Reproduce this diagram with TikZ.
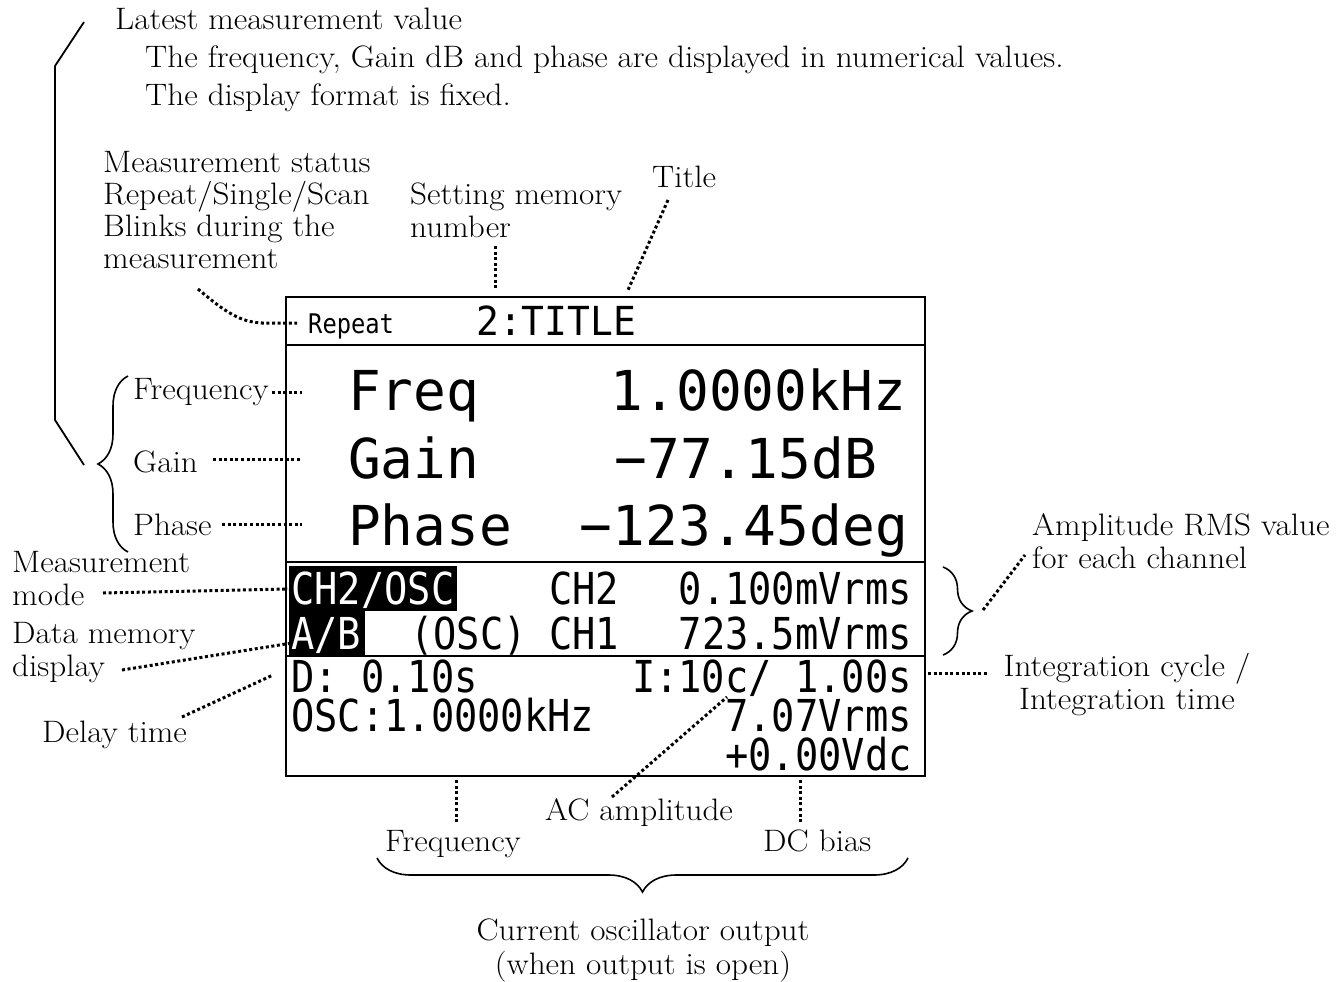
\documentclass[tikz,border=0pt]{standalone}
\usepackage{fontspec}
\setmainfont{Latin Modern Roman}[FakeStretch=1.07]
\newfontfamily\lcdA[FakeStretch=0.99]{DejaVu Sans Mono}
\newfontfamily\lcdB[FakeStretch=0.88]{DejaVu Sans Mono}
\newfontfamily\lcdC[FakeStretch=0.95]{DejaVu Sans Mono}
\usetikzlibrary{decorations.pathreplacing}
\begin{document}
\begin{tikzpicture}[x=1pt,y=-1pt,
  lbl/.style={inner sep=0pt, font=\fontsize{31}{32.5}\selectfont, anchor=base west, align=left},
  lblc/.style={inner sep=0pt, font=\fontsize{31}{32.5}\selectfont, anchor=base, align=center},
  dots/.style={line width=3pt, dash pattern=on 3pt off 2.6pt},
  big/.style={inner sep=0pt, text height=40pt, text depth=8pt, font=\lcdA\fontsize{55}{60}\selectfont},
  sml/.style={inner sep=0pt, text height=31pt, text depth=2pt, font=\lcdB\fontsize{44}{48}\selectfont},
  brc/.style={decorate, decoration={brace, amplitude=#1}, line width=1.6pt},
  frame/.style={line width=2.4pt},
]
\useasboundingbox (0,0) rectangle (1344,982);

% ---------- screen ----------
\node[frame, draw, inner sep=0pt, minimum width=639pt, minimum height=479pt, anchor=north west] (screen) at (285,296) {};
\draw[frame] (285,345) -- (924,345);
\draw[frame] (285,562) -- (924,562);
\draw[frame] (285,656) -- (924,656);
\fill (289,566) rectangle (457,611);
\fill (289,611) rectangle (365,655);

\node[inner sep=0pt, anchor=base west, font=\lcdB\fontsize{27}{30}\selectfont] (rep) at (308,333) {Repeat};
\node[inner sep=0pt, anchor=base west, font=\lcdC\fontsize{40}{42}\selectfont] (ttl) at (476,335) {2:TITLE};

\node[big, anchor=base west] (freq) at (348,410) {Freq};
\node[big, anchor=base east] (freqv) at (906,410) {1.0000kHz};
\node[big, anchor=base west] (gain) at (348,478) {Gain};
\node[big, anchor=base east] (gainv) at (877,478) {−77.15dB};
\node[big, anchor=base west] (phase) at (348,545) {Phase};
\node[big, anchor=base east] (phasev) at (908,545) {−123.45deg};

\node[sml, anchor=base west, text=white] (mode) at (291,604) {CH2/OSC};
\node[sml, anchor=base west] (ch2) at (549,604) {CH2};
\node[sml, anchor=base east] (ch2v) at (912,604) {0.100mVrms};
\node[sml, anchor=base west, text=white] (ab) at (291,649) {A/B};
\node[sml, anchor=base west] (osc) at (410,649) {(OSC)};
\node[sml, anchor=base west] (ch1) at (549,649) {CH1};
\node[sml, anchor=base east] (ch1v) at (912,649) {723.5mVrms};
\node[sml, anchor=base west] (dly) at (291,692) {D: 0.10s};
\node[sml, anchor=base east] (integ) at (912,692) {I:10c/ 1.00s};
\node[sml, anchor=base west] (oscf) at (291,731) {OSC:1.0000kHz};
\node[sml, anchor=base east] (acv) at (912,731) {7.07Vrms};
\node[sml, anchor=base east] (dcv) at (912,770) {+0.00Vdc};

% ---------- labels (base = baseline of last line) ----------
\node[lbl] (latest) at (115,30) {Latest measurement value};
\node[lbl, font=\fontsize{31}{38}\selectfont] (desc) at (145,105) {The frequency, Gain dB and phase are displayed in numerical values.\\The display format is fixed.};
\node[lbl, font=\fontsize{31}{32}\selectfont] (mstat) at (103,268) {Measurement status\\Repeat/Single/Scan\\Blinks during the\\measurement};
\node[lbl] (smem) at (410,237) {Setting memory\\number};
\node[lbl] (title) at (652,187) {Title};
\node[lbl] (lfreq) at (133,399) {Frequency};
\node[lbl] (lgain) at (133,472) {Gain};
\node[lbl] (lphase) at (133,535) {Phase};
\node[lbl, font=\fontsize{31}{33}\selectfont] (lmode) at (12,605) {Measurement\\mode};
\node[lbl, font=\fontsize{31}{33}\selectfont] (ldata) at (12,676) {Data memory\\display};
\node[lbl] (ldelay) at (42,742) {Delay time};
\node[lbl] (lamp) at (1032,568) {Amplitude RMS value\\for each channel};
\node[lblc] (lint) at (1127,709) {Integration cycle /\\Integration time};
\node[lbl] (lac) at (545,820) {AC amplitude};
\node[lbl] (lbfreq) at (385,851) {Frequency};
\node[lbl] (ldc) at (763,851) {DC bias};
\node[lblc, font=\fontsize{31}{34}\selectfont] (lcur) at (643,974) {Current oscillator output\\(when output is open)};

% ---------- brackets and braces ----------
\draw[line width=1.8pt] (84,22) -- (55,66) -- (55,420) -- (84,465);
\draw[brc=30] (128,552) -- (128,376);
\draw[brc=29] (943,567) -- (943,655);
\draw[brc=34] (908,858) -- (377,858);

% ---------- dotted connectors ----------
\coordinate (c1) at (198,289);
\coordinate (c1e) at (297,323);
\draw[dots] (c1) .. controls (225,312) and (240,322) .. (262,323) -- (c1e);
\coordinate (c2) at (495,246); \coordinate (c2e) at (495,290);
\draw[dots] (c2) -- (c2e);
\coordinate (c3) at (668,200); \coordinate (c3e) at (628,290);
\draw[dots] (c3) -- (c3e);
\coordinate (c4) at (272,392); \coordinate (c4e) at (302,392);
\draw[dots] (c4) -- (c4e);
\coordinate (c5) at (213,459); \coordinate (c5e) at (302,459);
\draw[dots] (c5) -- (c5e);
\coordinate (c6) at (222,524); \coordinate (c6e) at (302,524);
\draw[dots] (c6) -- (c6e);
\coordinate (c7) at (103,593); \coordinate (c7e) at (288,589);
\draw[dots] (c7) -- (c7e);
\coordinate (c8) at (122,670); \coordinate (c8e) at (292,643);
\draw[dots] (c8) -- (c8e);
\coordinate (c9) at (182,717); \coordinate (c9e) at (273,675);
\draw[dots] (c9) -- (c9e);
\coordinate (c10) at (983,610); \coordinate (c10e) at (1025,555);
\draw[dots] (c10) -- (c10e);
\coordinate (c11) at (928,673); \coordinate (c11e) at (988,673);
\draw[dots] (c11) -- (c11e);
\coordinate (c12) at (456,780); \coordinate (c12e) at (456,822);
\draw[dots] (c12) -- (c12e);
\coordinate (c13) at (612,797); \coordinate (c13e) at (727,697);
\draw[dots] (c13) -- (c13e);
\coordinate (c14) at (800,780); \coordinate (c14e) at (800,822);
\draw[dots] (c14) -- (c14e);
\end{tikzpicture}
\end{document}
